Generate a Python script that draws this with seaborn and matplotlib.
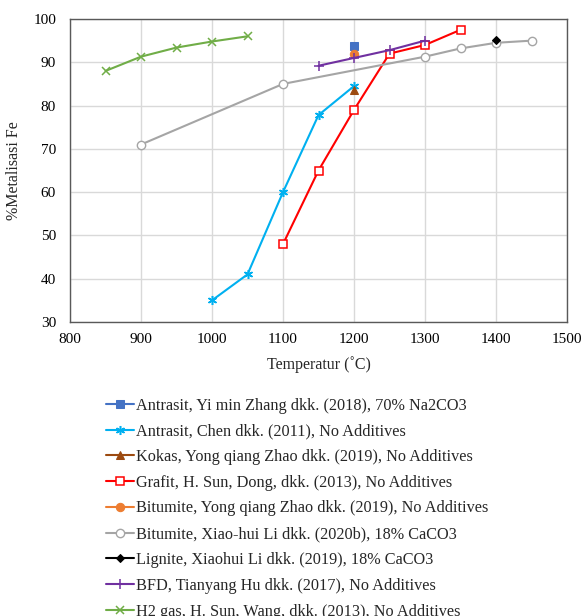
import matplotlib
matplotlib.use("Agg")
import matplotlib.pyplot as plt
import seaborn as sns
import pandas as pd

labels = [
    "Antrasit, Yi min Zhang dkk. (2018), 70% Na2CO3",
    "Antrasit, Chen dkk. (2011), No Additives",
    "Kokas, Yong qiang Zhao dkk. (2019), No Additives",
    "Grafit, H. Sun, Dong, dkk. (2013), No Additives",
    "Bitumite, Yong qiang Zhao dkk. (2019), No Additives",
    "Bitumite, Xiao-hui Li dkk. (2020b), 18% CaCO3",
    "Lignite, Xiaohui Li dkk. (2019), 18% CaCO3",
    "BFD, Tianyang Hu dkk. (2017), No Additives",
    "H2 gas, H. Sun, Wang, dkk. (2013), No Additives",
]
zhang_x = [1200]; zhang_y = [93.8]
chen_x = [1000, 1050, 1100, 1150, 1200]; chen_y = [35, 41, 60, 77.8, 84.5]
kokas_x = [1200]; kokas_y = [83.5]
grafit_x = [1100, 1150, 1200, 1250, 1300, 1350]; grafit_y = [48, 65, 79, 92, 94, 97.5]
bitz_x = [1200]; bitz_y = [92]
bitli_x = [900, 1100, 1300, 1350, 1400, 1450]; bitli_y = [71, 85, 91.3, 93.2, 94.5, 95]
lig_x = [1400]; lig_y = [95.2]
bfd_x = [1150, 1200, 1250, 1300]; bfd_y = [89.2, 91, 92.8, 95]
h2_x = [850, 900, 950, 1000, 1050]; h2_y = [88, 91.3, 93.4, 94.8, 96]

xticks = [800, 900, 1000, 1100, 1200, 1300, 1400, 1500]
yticks = [30, 40, 50, 60, 70, 80, 90, 100]

sns.set_theme(style="white")
plt.rcParams['font.family'] = ['Liberation Serif', 'DejaVu Serif']

fig = plt.figure(figsize=(5.84, 6.16), dpi=100)
ax = fig.add_axes([70/584, 1-322/616, (567-70)/584, (322-19)/616])

series = [
    (zhang_x, zhang_y, dict(color="#4472C4", marker="s", markersize=6)),
    (chen_x, chen_y, dict(color="#00B0F0", marker=(6, 2, 0), markersize=6.5, markeredgewidth=1.1)),
    (kokas_x, kokas_y, dict(color="#9C4A10", marker="^", markersize=6)),
    (grafit_x, grafit_y, dict(color="#FF0000", marker="s", markersize=6, markerfacecolor="white", markeredgewidth=1.1)),
    (bitz_x, bitz_y, dict(color="#ED7D31", marker="o", markersize=6)),
    (bitli_x, bitli_y, dict(color="#A5A5A5", marker="o", markersize=6, markerfacecolor="white", markeredgewidth=1.0)),
    (lig_x, lig_y, dict(color="#000000", marker="D", markersize=4.5)),
    (bfd_x, bfd_y, dict(color="#7030A0", marker="+", markersize=7, markeredgewidth=1.1)),
    (h2_x, h2_y, dict(color="#70AD47", marker="x", markersize=5.5, markeredgewidth=1.1)),
]

for lab, (xs, ys, kw) in zip(labels, series):
    df = pd.DataFrame({"x": xs, "y": ys})
    color = kw.pop("color")
    mfc = kw.pop("markerfacecolor", color)
    sns.lineplot(data=df, x="x", y="y", ax=ax, color=color, label=lab,
                 markerfacecolor=mfc, markeredgecolor=color, linewidth=1.5,
                 **kw)

ax.set_xlim(800, 1500)
ax.set_ylim(30, 100)
ax.set_xticks(xticks)
ax.set_yticks(yticks)
ax.grid(True, color="#D9D9D9", linewidth=1.0)
ax.set_axisbelow(True)
for s in ax.spines.values():
    s.set_color("#595959")
    s.set_linewidth(1.0)
ax.tick_params(labelsize=11, colors="black", length=0)
ax.tick_params(axis="x", pad=8)
ax.tick_params(axis="y", pad=10)
ax.set_xlabel("Temperatur (˚C)", fontsize=11.5, labelpad=7)
ax.set_ylabel("%Metalisasi Fe", fontsize=11.5, labelpad=8)

handles, labs = ax.get_legend_handles_labels()
ax.get_legend().remove()
fig.legend(handles, labs, loc="upper left", bbox_to_anchor=(99/584, 1-391/616),
           frameon=False, fontsize=11.7, labelspacing=0.6, handlelength=1.75,
           handletextpad=0.15, borderaxespad=0)

fig.savefig("out.png", dpi=100, facecolor="white")
